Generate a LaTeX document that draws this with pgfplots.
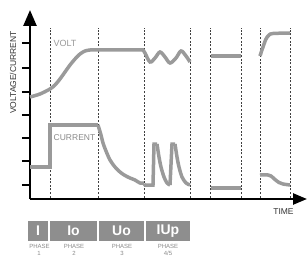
\documentclass[border=0pt]{standalone}
\usepackage{pgfplots}
\pgfplotsset{compat=1.18}
\usepackage{fontspec}
\setmainfont{Liberation Sans}
\usetikzlibrary{arrows.meta}
\definecolor{curve}{HTML}{9A9A9A}
\definecolor{boxg}{HTML}{8E8E8E}
\definecolor{lab}{HTML}{8A8A8A}
\definecolor{dk}{HTML}{333333}
\begin{document}
\begin{tikzpicture}
\path[use as bounding box] (-30bp,-58bp) rectangle (278bp,199bp);
\begin{axis}[
  scale only axis, width=277bp, height=189bp,
  xmin=30, xmax=307, ymin=58, ymax=247,
  axis x line=bottom, axis y line=left,
  x axis line style={line width=2.5bp, -{Triangle[length=14bp,width=11bp]}},
  y axis line style={line width=2.5bp, -{Triangle[length=16bp,width=13bp]}},
  xtick=\empty,
  ytick={72,96,119,142,165,189,214}, yticklabels={},
  tick align=outside, major tick length=8bp,
  ytick style={line width=2bp, black},
  clip=false,
]
% dotted phase separators
\pgfplotsinvokeforeach{50,98,144,190,210,241,260,290}{
  \addplot[black!75, line width=0.8bp, dash pattern=on 2bp off 1.6bp] coordinates {(#1,59.5) (#1,229)};
}
% VOLT
\addplot[curve, line width=3.5bp, smooth, tension=0.5] coordinates {
  (30,160) (40,163) (50,168) (55,172) (60,178) (65,185) (70,192) (75,198) (80,203) (85,206) (90,207) (95,207) (144,207)};
\addplot[curve, line width=3.5bp, smooth, tension=0.55] coordinates {
  (143,207) (145,204) (150,195) (155,199) (160,205) (165,200) (170,194) (176,199) (181,206) (186,201) (190,195)};
\addplot[curve, line width=3.5bp] coordinates {(211,201) (241,201)};
\addplot[curve, line width=3.5bp, smooth, tension=0.5] coordinates {
  (260,201) (263,210) (266,218) (269,222) (273,223.5) (290,224)};
% CURRENT
\addplot[curve, line width=3.5bp] coordinates {(30,90) (50,90) (50,132) (98,132)};
\addplot[curve, line width=3.5bp, smooth, tension=0.5] coordinates {
  (98,132) (101,122) (103,114) (106,106) (110,97) (115,90) (120,85) (125,81.5) (130,79) (135,77) (140,74) (144,74)};
\addplot[curve, line width=3.5bp] coordinates {(144,73) (145,72) (153,72) (154,113) (157,113)};
\addplot[curve, line width=3.5bp, smooth, tension=0.5] coordinates {
  (157,113) (159,100) (161,90) (164,80) (167,74) (170,72)};
\addplot[curve, line width=3.5bp] coordinates {(170,72) (172,113) (175,113)};
\addplot[curve, line width=3.5bp, smooth, tension=0.5] coordinates {
  (175,113) (177,100) (179,90) (182,80) (186,74) (190,72)};
\addplot[curve, line width=3.5bp] coordinates {(211,69) (241,69)};
\addplot[curve, line width=3.5bp, smooth, tension=0.5] coordinates {
  (260,82) (268,82) (271,81) (275,77.5) (279,74.5) (283,73) (290,72)};
% labels
\node[curve, font=\fontsize{9bp}{10bp}\selectfont] at (axis cs:65,214) {VOLT};
\node[lab, font=\fontsize{8.5bp}{10bp}\selectfont] at (axis cs:74.5,119) {CURRENT};
\node[dk, font=\fontsize{8.5bp}{10bp}\selectfont] at (axis cs:283.5,45.5) {TIME};
\node[dk, rotate=90, font=\fontsize{8.5bp}{10bp}\selectfont] at (axis cs:13,184.5) {VOLTAGE/CURRENT};
% phase boxes
\fill[boxg] (axis cs:28,16) rectangle (axis cs:48,36);
\fill[boxg] (axis cs:50,16) rectangle (axis cs:97,36);
\fill[boxg] (axis cs:99,16) rectangle (axis cs:144,36);
\fill[boxg] (axis cs:146,16) rectangle (axis cs:190,36);
\node[white, font=\bfseries\fontsize{14bp}{15bp}\selectfont] at (axis cs:38,26) {I};
\node[white, font=\bfseries\fontsize{14bp}{15bp}\selectfont] at (axis cs:73.5,26) {Io};
\node[white, font=\bfseries\fontsize{14bp}{15bp}\selectfont] at (axis cs:121.5,26) {Uo};
\node[white, font=\bfseries\fontsize{14bp}{15bp}\selectfont] at (axis cs:168,26) {IUp};
\node[lab, font=\fontsize{6bp}{7bp}\selectfont] at (axis cs:39.5,11) {PHASE};
\node[lab, font=\fontsize{6bp}{7bp}\selectfont] at (axis cs:39,4) {1};
\node[lab, font=\fontsize{6bp}{7bp}\selectfont] at (axis cs:74,11) {PHASE};
\node[lab, font=\fontsize{6bp}{7bp}\selectfont] at (axis cs:74,4) {2};
\node[lab, font=\fontsize{6bp}{7bp}\selectfont] at (axis cs:122,11) {PHASE};
\node[lab, font=\fontsize{6bp}{7bp}\selectfont] at (axis cs:122,4) {3};
\node[lab, font=\fontsize{6bp}{7bp}\selectfont] at (axis cs:168,11) {PHASE};
\node[lab, font=\fontsize{6bp}{7bp}\selectfont] at (axis cs:168,4) {4/5};
\end{axis}
\end{tikzpicture}
\end{document}
